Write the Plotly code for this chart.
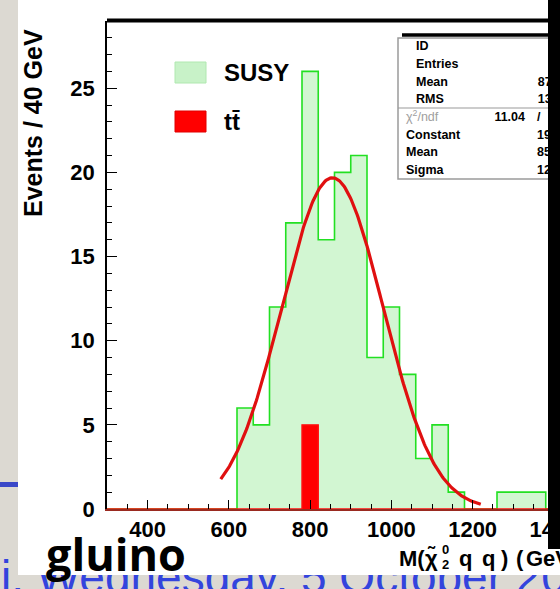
import numpy as np
import plotly.graph_objects as go

W, H = 560, 589

# ---- histogram data: 40 GeV bins from 300 to 1420 GeV ----
bin_edges = list(range(300, 1421, 40))
susy_counts = [0, 0, 0, 0, 0, 0, 0, 0,
               6, 5, 12, 17, 26, 16, 20, 21, 9, 12, 8, 3, 5, 1, 0, 0, 1, 1, 1, 0]
ttbar_counts = [0] * 12 + [5] + [0] * 15

# ---- Gaussian fit result (stats box) ----
fit_constant = 19.68
fit_mean = 854.9
fit_sigma = 125.3
fit_range = (580, 1220)
fit_chi2, fit_ndf = 11.04, 13

# ---- stats box entries ----
stat_names = ["ID", "Entries", "Mean", "RMS"]
stat_values = ["100", "164", "872.6", "131.4"]
fit_names = ["Constant", "Mean", "Sigma"]
fit_values = [f"{fit_constant:.2f} ± 2.09", f"{fit_mean:.1f} ± 11.2", f"{fit_sigma:.1f} ± 9.4"]

x_ticks = [400, 600, 800, 1000, 1200, 1400]
y_ticks = [0, 5, 10, 15, 20, 25]

BOLD = dict(family="Liberation Sans, Arial, sans-serif", weight="bold", color="black")

fig = go.Figure()


def page_text(x, y, text, pos, font):
    """Text placed in page pixels on the background axes."""
    fig.add_trace(go.Scatter(
        x=x, y=y, mode="text", text=text, textposition=pos, textfont=font,
        hoverinfo="skip", showlegend=False, xaxis="x", yaxis="y"))


# ---------- page layer (pixel axes x/y) ----------
# footer line of the slide, mostly hidden under the white panel
page_text([1], [581], ["i, Wednesday, 5 October 2005"], "middle right",
          dict(family="Liberation Sans, sans-serif", size=46, color="#3344dd"))
# white panel holding the plot
fig.add_trace(go.Scatter(
    x=[18, 560, 560, 18, 18], y=[0, 0, 575, 575, 0], mode="lines",
    fill="toself", fillcolor="white", line=dict(width=0),
    hoverinfo="skip", showlegend=False, xaxis="x", yaxis="y"))

# stats box text
row_y = [47, 65, 82.7, 100.3, 117.9, 135.5, 153.1, 170.7]
SMALL = dict(size=12.5, **BOLD)
page_text([416] * 4, row_y[:4], stat_names, "middle right", SMALL)
page_text([569] * 4, row_y[:4], stat_values, "middle left", SMALL)
page_text([406], [row_y[4]], ["χ<sup>2</sup>/ndf"], "middle right",
          dict(family="Liberation Sans, Arial, sans-serif", size=12.5, color="#a0a0a0"))
page_text([525], [row_y[4]], [f"{fit_chi2:.2f}"], "middle left", SMALL)
page_text([537], [row_y[4]], ["/"], "middle right", SMALL)
page_text([551], [row_y[4]], [str(fit_ndf)], "middle right", SMALL)
page_text([406] * 3, row_y[5:], fit_names, "middle right", SMALL)
page_text([537] * 3, row_y[5:], fit_values, "middle right", SMALL)

# x-axis title, set piece by piece so the 0 and 2 stack over each other
TITLE = dict(size=22, **BOLD)
title_parts = [("M(", 399), ("χ\u0303", 425), ("q", 459), ("q", 482),
               (")", 501), ("(", 516), ("GeV)", 526)]
page_text([p[1] for p in title_parts], [560] * len(title_parts),
          [p[0] for p in title_parts], "middle right", TITLE)
page_text([442], [551], ["0"], "middle right", dict(size=13, **BOLD))
page_text([442], [565.5], ["2"], "middle right", dict(size=13, **BOLD))

# ---------- histogram (axes x2/y2) ----------
fig.add_trace(go.Scatter(
    x=bin_edges, y=susy_counts + [susy_counts[-1]], mode="lines",
    line=dict(shape="hv", color="#22e022", width=1.6),
    fill="tozeroy", fillcolor="#d2f6d2",
    hoverinfo="skip", showlegend=False, xaxis="x2", yaxis="y2"))
fig.add_trace(go.Scatter(
    x=bin_edges, y=ttbar_counts + [ttbar_counts[-1]], mode="lines",
    line=dict(shape="hv", color="#ff1010", width=1.4),
    fill="tozeroy", fillcolor="#ff0000",
    hoverinfo="skip", showlegend=False, xaxis="x2", yaxis="y2"))

# Gaussian fit curve evaluated over the fit range
fx = np.linspace(fit_range[0], fit_range[1], 300)
fy = fit_constant * np.exp(-0.5 * ((fx - fit_mean) / fit_sigma) ** 2)
fig.add_trace(go.Scatter(
    x=fx, y=fy, mode="lines", line=dict(color="#e01010", width=3.2),
    hoverinfo="skip", showlegend=False, xaxis="x2", yaxis="y2"))

# ---------- geometry of the frame (pixels) ----------
X_LEFT, X_RIGHT = 107, 560
Y_TOP, Y_BOT = 21, 509
x_range = [300, 300 + (X_RIGHT - X_LEFT) / 0.40625]
y_range = [0, (Y_BOT - Y_TOP) / 16.83]

shapes = [
    # blue bar of the slide on the left strip
    dict(type="rect", x0=0, x1=18, y0=482, y1=487, fillcolor="#3a48c8", line_width=0),
    # thick top edge of the frame
    dict(type="line", x0=X_LEFT, x1=548, y0=20.5, y1=20.5, line=dict(color="black", width=4)),
    # stats box
    dict(type="rect", x0=398, x1=600, y0=38, y1=179, line=dict(color="#9a9a9a", width=1.5)),
    dict(type="line", x0=398, x1=600, y0=108, y1=108, line=dict(color="#9a9a9a", width=1.2)),
    dict(type="line", x0=402, x1=548, y0=35, y1=35, line=dict(color="black", width=3.5)),
    # legend swatches
    dict(type="rect", x0=175, x1=206, y0=62, y1=83, fillcolor="#c8f2c8",
         line=dict(color="#b0e8b0", width=1)),
    dict(type="rect", x0=175, x1=206, y0=111, y1=132, fillcolor="#ff0000",
         line=dict(color="#e00000", width=1)),
    # black border on the right
    dict(type="rect", x0=548, x1=561, y0=-1, y1=549, fillcolor="black", line_width=0),
]
for s in shapes:
    s.update(xref="x", yref="y", layer="above")


def px(x):
    return x / W


def py(y):
    return 1 - y / H


annotations = [
    dict(text="Events / 40 GeV", x=px(32.5), y=py(123.5), textangle=-90,
         xanchor="center", font=dict(size=25, **BOLD)),
    dict(text="SUSY", x=px(222), y=py(73), xanchor="left", font=dict(size=24, **BOLD)),
    dict(text="tt\u0304", x=px(222), y=py(121), xanchor="left", font=dict(size=24, **BOLD)),
    dict(text="gluino", x=px(44), y=py(553), xanchor="left",
         font=dict(family="Open Sans, Lato, sans-serif", weight="bold", size=45, color="black")),
]
for a in annotations:
    a.update(xref="paper", yref="paper", yanchor="middle", showarrow=False)

fig.update_layout(
    width=W, height=H,
    margin=dict(l=0, r=0, t=0, b=0),
    paper_bgcolor="#dcd9d2",
    plot_bgcolor="rgba(0,0,0,0)",
    showlegend=False,
    shapes=shapes,
    annotations=annotations,
    xaxis=dict(domain=[0, 1], range=[0, W], visible=False, fixedrange=True),
    yaxis=dict(domain=[0, 1], range=[H, 0], visible=False, fixedrange=True),
    xaxis2=dict(
        domain=[X_LEFT / W, 1], range=x_range, anchor="y2",
        tickmode="array", tickvals=x_ticks, ticktext=[str(v) for v in x_ticks],
        ticks="inside", ticklen=9, tickwidth=1.4, tickcolor="black",
        minor=dict(ticks="inside", dtick=50, tick0=0, ticklen=5, tickwidth=1, tickcolor="black"),
        tickfont=dict(size=22, **BOLD), ticklabelstandoff=0, ticklabeloverflow="allow",
        showline=True, linecolor="#9a2a20", linewidth=1.6,
        showgrid=False, zeroline=False, automargin=False,
    ),
    yaxis2=dict(
        domain=[1 - Y_BOT / H, 1 - Y_TOP / H], range=y_range, anchor="x2",
        tickmode="array", tickvals=y_ticks, ticktext=[str(v) for v in y_ticks],
        ticks="inside", ticklen=10, tickwidth=1.4, tickcolor="black",
        minor=dict(ticks="inside", dtick=1, tick0=0, ticklen=5, tickwidth=1, tickcolor="black"),
        tickfont=dict(size=22, **BOLD), ticklabelstandoff=6, ticklabeloverflow="allow",
        showline=True, linecolor="black", linewidth=1.5,
        showgrid=False, zeroline=False, automargin=False,
    ),
)

fig.write_html("out.html")
